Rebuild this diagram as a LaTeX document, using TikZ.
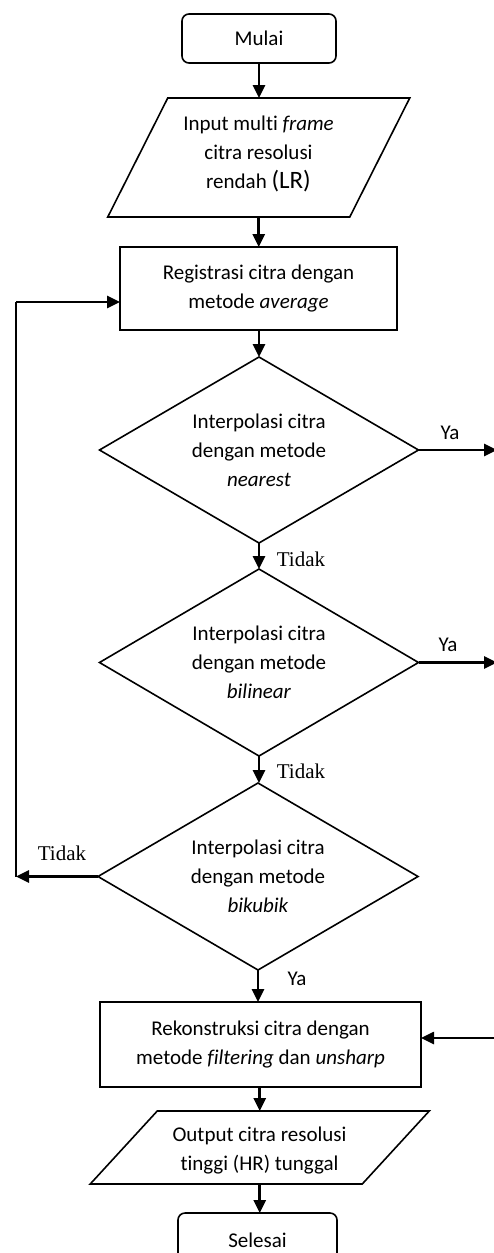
\documentclass[tikz,border=0pt]{standalone}
\usepackage{fontspec}
\setmainfont{Carlito}[Ligatures=NoCommon]
\newfontfamily\timesf{Liberation Serif}
\usetikzlibrary{arrows.meta,shapes.geometric,calc}
\begin{document}
\begin{tikzpicture}[x=1pt,y=-1pt,
  txt/.style={font=\fontsize{21}{29}\selectfont, align=center, inner sep=0pt, outer sep=0pt},
  shapeline/.style={line width=1.6pt},
  term/.style={txt, shapeline, draw, rounded corners=7pt},
  procbox/.style={txt, shapeline, draw},
  decision/.style={txt, shapeline, draw, diamond, aspect=1.715, minimum width=319pt, minimum height=186pt},
  iobox/.style={txt},
  conn/.style={line width=2.6pt, -{Triangle[length=13pt,width=12pt]}},
  lblya/.style={font=\fontsize{21}{25}\selectfont, inner sep=0pt},
  lbltidak/.style={font=\timesf\fontsize{21}{25}\selectfont, inner sep=0pt}
]
\useasboundingbox (0,0) rectangle (494,1253);

% nodes
\node[term, minimum width=154pt, minimum height=49pt] (start) at (259,38.5) {Mulai};
\node[iobox, minimum width=242pt, minimum height=119pt] (in) at (258.75,157.5) {};
\draw[shapeline] ($(in.north west)+(30,0)$) -- ($(in.north east)+(30,0)$) -- ($(in.south east)+(-30,0)$) -- ($(in.south west)+(-30,0)$) -- cycle;
\node[txt] (intext) at (258.5,154) {Input multi \textit{frame}\\ citra resolusi\\ rendah {\fontsize{25}{29}\selectfont(LR)}};
\node[procbox, minimum width=277pt, minimum height=83pt] (reg) at (258.5,288.5) {Registrasi citra dengan\\ metode \textit{average}};
\node[decision] (d1) at (259,450) {Interpolasi citra\\ dengan metode\\ \textit{nearest}};
\node[decision, minimum height=187pt] (d2) at (259,662.5) {Interpolasi citra\\ dengan metode\\ \textit{bilinear}};
\node[decision, minimum height=187pt, minimum width=320pt] (d3) at (258,876.5) {Interpolasi citra\\ dengan metode\\ \textit{bikubik}};
\node[procbox, minimum width=321pt, minimum height=85pt] (rek) at (260.5,1044.5) {Rekonstruksi citra dengan\\ metode \textit{filtering} dan \textit{unsharp}};
\node[iobox, minimum width=272pt, minimum height=73pt] (out) at (259.75,1147.5) {};
\draw[shapeline] ($(out.north west)+(33.5,0)$) -- ($(out.north east)+(33.5,0)$) -- ($(out.south east)+(-33.5,0)$) -- ($(out.south west)+(-33.5,0)$) -- cycle;
\node[txt] (outtext) at (259.5,1150) {Output citra resolusi\\ tinggi (HR) tunggal};
\node[term, minimum width=159pt, minimum height=49pt] (end) at (257.5,1237.5) {};
\node[txt] (endtext) at (257.5,1240) {Selesai};

% free ends
\coordinate (fb) at (16,302);
\coordinate (ya1) at (497,450);
\coordinate (ya2) at (497,662.5);
\coordinate (rin) at (494,1038);

% connectors
\draw[conn] (start.south) -- (start.south |- in.north);
\draw[conn] (in.south) -- (in.south |- reg.north);
\draw[conn] (reg.south) -- (reg.south -| d1.north) -- (d1.north);
\draw[conn] (d1.south) -- (d2.north);
\draw[conn] (d2.south) -- (d2.south |- d3.north);
\draw[conn] (d3.south) -- (d3.south |- rek.north);
\draw[conn] (rek.south) -- (rek.south -| out.north) -- (out.north);
\draw[conn] (out.south) -- (out.south |- end.north);
\draw[conn] (d1.east) -- (ya1);
\draw[conn] (d2.east) -- (ya2);
\draw[conn] (d3.west) -- (fb |- d3.west);
\draw[line width=2.6pt] (fb |- d3.west) -- (fb);
\draw[conn] (fb) -- (reg.west |- fb);
\draw[conn] (rin) -- (rek.east |- rin);

% labels
\node[lblya] (lya1) at (450,433) {Ya};
\node[lblya] (lya2) at (448,645) {Ya};
\node[lblya] (lya3) at (297,979) {Ya};
\node[lbltidak] (lt1) at (301,559) {Tidak};
\node[lbltidak] (lt2) at (301,771) {Tidak};
\node[lbltidak] (lt3) at (62,853) {Tidak};
\end{tikzpicture}
\end{document}
